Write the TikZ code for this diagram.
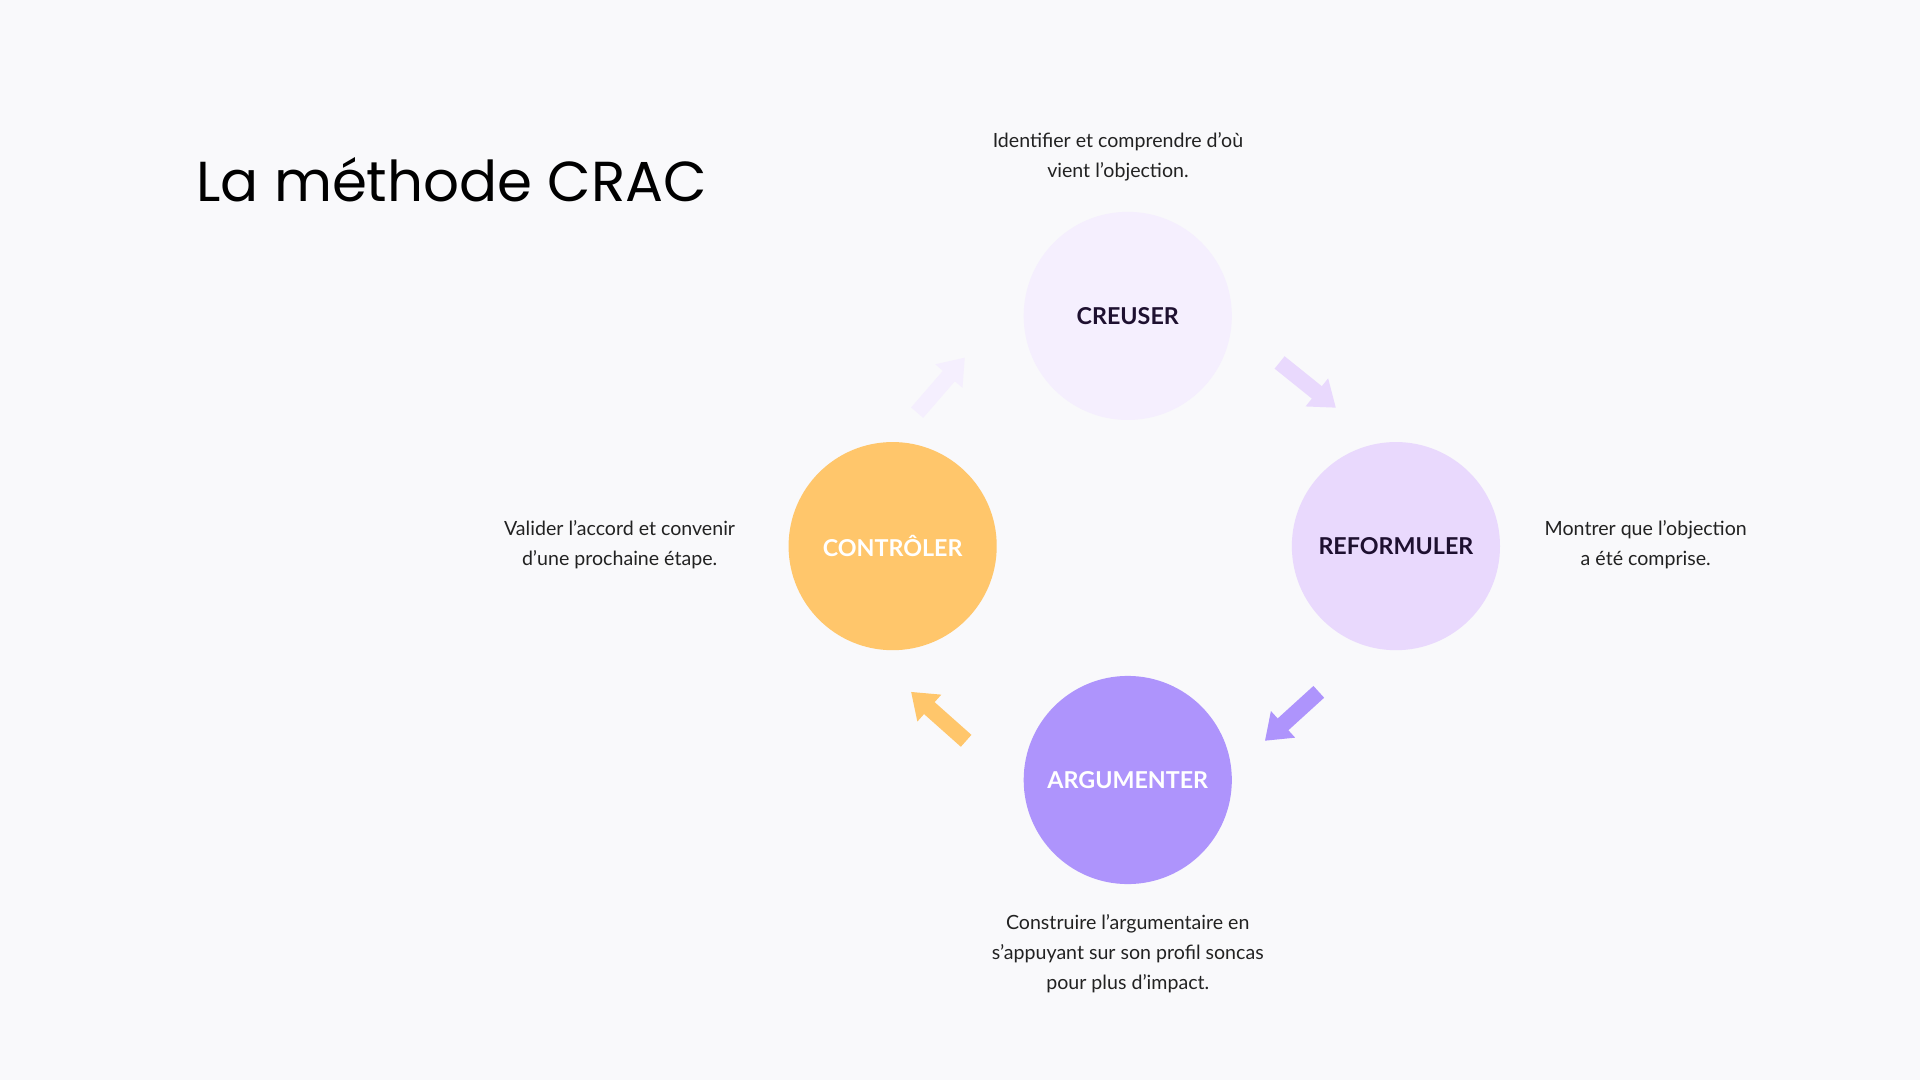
\documentclass[tikz,border=0pt]{standalone}
\usepackage{fontspec}
\setmainfont{Lato}
\newfontfamily\titlefont{Poppins}
\usetikzlibrary{arrows.meta}
\definecolor{bg}{HTML}{F9F9FB}
\definecolor{cA}{HTML}{F5EFFE}
\definecolor{cB}{HTML}{E9D9FD}
\definecolor{cC}{HTML}{AE94FC}
\definecolor{cD}{HTML}{FFC66B}
\definecolor{txt}{HTML}{222222}
\definecolor{lab}{HTML}{1E1030}
\begin{document}
\begin{tikzpicture}[x=1pt,y=-1pt,
  step circle/.style={circle,minimum size=170pt,inner sep=0pt,font=\fontsize{19}{22}\selectfont\bfseries},
  desc/.style={align=center,font=\fontsize{16}{24.5}\selectfont,text=txt},
  flow/.style={line width=13pt,-{Triangle[width=28pt,length=20pt]}}]
\fill[bg] (0,0) rectangle (1568,882);
\useasboundingbox (0,0) rectangle (1568,882);
\node[anchor=west,font=\titlefont\fontsize{46}{50}\selectfont,text=black] (title) at (157,147) {La méthode CRAC};
\node[step circle,fill=cA,text=lab] (c) at (921,258) {CREUSER};
\node[step circle,fill=cB,text=lab] (r) at (1140,446) {REFORMULER};
\node[step circle,fill=cC,text=white] (a) at (921,637) {ARGUMENTER};
\node[step circle,fill=cD,text=white] (k) at (729,446) {CONTRÔLER};
\node[desc] (dc) at (913,128) {Identifier et comprendre d’où\\vient l’objection.};
\node[desc] (dr) at (1344,445) {Montrer que l’objection\\a été comprise.};
\node[desc] (da) at (921,779) {Construire l’argumentaire en\\s’appuyant sur son profil soncas\\pour plus d’impact.};
\node[desc] (dk) at (506,445) {Valider l’accord et convenir\\d’une prochaine étape.};
\coordinate (a1s) at (749,337); \coordinate (a1e) at (788,292);
\coordinate (a2s) at (1045,296); \coordinate (a2e) at (1091,333);
\coordinate (a3s) at (1077,565); \coordinate (a3e) at (1033,605);
\coordinate (a4s) at (789,605); \coordinate (a4e) at (744,565);
\draw[flow,cA] (a1s) -- (a1e);
\draw[flow,cB] (a2s) -- (a2e);
\draw[flow,cC] (a3s) -- (a3e);
\draw[flow,cD] (a4s) -- (a4e);
\end{tikzpicture}
\end{document}
